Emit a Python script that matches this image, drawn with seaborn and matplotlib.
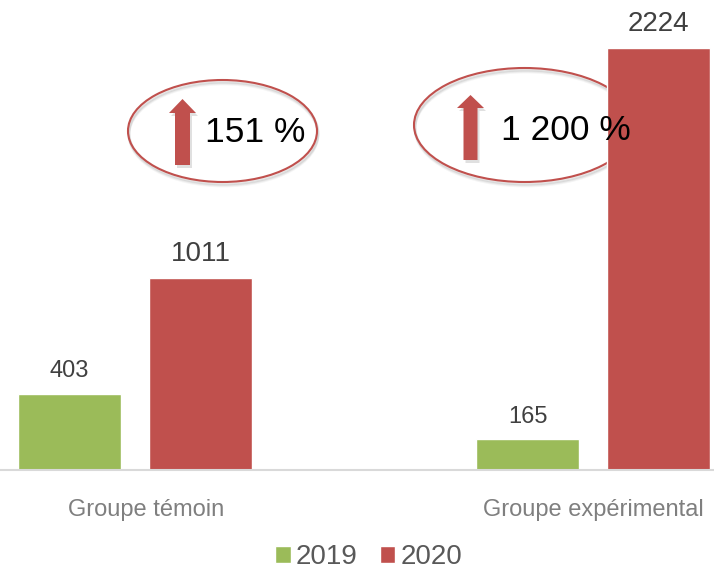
import seaborn as sns
import pandas as pd
import matplotlib.pyplot as plt
from matplotlib.patches import Ellipse, Polygon
from matplotlib.transforms import ScaledTranslation

groups = ['Groupe témoin', 'Groupe expérimental']
years = ['2019', '2020']
values_2019 = [403, 165]
values_2020 = [1011, 2224]
growth_labels = ['151 %', '1 200 %']

GREEN = '#9BBB59'
RED = '#C0504D'

df = pd.DataFrame({
    'group': groups * 2,
    'year': [years[0]] * 2 + [years[1]] * 2,
    'value': values_2019 + values_2020,
})

sns.set_theme(style='white')
plt.rcParams['font.family'] = ['Liberation Sans', 'DejaVu Sans']

W, H = 714, 572
fig = plt.figure(figsize=(W / 100, H / 100), dpi=100)
fig.patch.set_facecolor('white')
ax = fig.add_axes([0, 102 / H, 1, 470 / H])

sns.barplot(data=df, x='group', y='value', hue='year', palette=[GREEN, RED],
            width=0.572, gap=0.21, ax=ax, saturation=1, zorder=2)

ax.set_xlim(-0.2948, 1.264)
ax.set_ylim(0, 2477)
ax.set_xlabel('')
ax.set_ylabel('')
ax.set_yticks([])
for side in ['left', 'right', 'top']:
    ax.spines[side].set_visible(False)
ax.spines['bottom'].set_color('#D9D9D9')
ax.spines['bottom'].set_linewidth(1.5)
ax.tick_params(axis='x', length=0, pad=21, labelsize=17, labelcolor='#7F7F7F')
lbl = ax.get_xticklabels()[0]
lbl.set_transform(lbl.get_transform() + ScaledTranslation(11 / 100, 0, fig.dpi_scale_trans))

ax.bar_label(ax.containers[0], padding=8, fontsize=17, color='#404040')
ax.bar_label(ax.containers[1], padding=8, fontsize=20, color='#404040')

handles, labels = ax.get_legend_handles_labels()
ax.legend(handles, labels, loc='center', bbox_to_anchor=(369 / W, 1 - 557 / H),
          bbox_transform=fig.transFigure, ncol=2, frameon=False, fontsize=20,
          handlelength=0.55, handleheight=0.55, handletextpad=0.2,
          columnspacing=0.8, labelcolor='#595959')


def fx(px):
    return px / W


def fy(py):
    return 1 - py / H


# ellipses: centre x, centre y, width, height (pixels)
ellipses = [(222.5, 131, 189, 102), (524.5, 125, 221, 114)]
# arrows: tip x, tip y, head base y, head half width, shaft half width, bottom y
arrows = [(182.5, 99, 113, 13.5, 7.5, 165), (470.5, 95, 108, 13.5, 7, 160)]
texts = [(255, 132), (566, 130)]

for (cx, cy, ew, eh), (tx, ty, hb, hw, sw, bt), (lx, ly), g in zip(ellipses, arrows, texts, growth_labels):
    for k, a in [(4, 0.04), (3, 0.05), (2, 0.07)]:
        ax.add_patch(Ellipse((fx(cx + 1), fy(cy + k)), ew / W, eh / H, fill=False,
                             edgecolor='black', alpha=a, lw=2, transform=fig.transFigure,
                             zorder=1))
    ax.add_patch(Ellipse((fx(cx), fy(cy)), ew / W, eh / H, fill=False, edgecolor=RED,
                         lw=1.5, transform=fig.transFigure, zorder=1.5))
    pts = [(tx, ty), (tx + hw, hb), (tx + sw, hb), (tx + sw, bt), (tx - sw, bt),
           (tx - sw, hb), (tx - hw, hb)]
    shadow = [(fx(x + 2), fy(y + 3)) for x, y in pts]
    ax.add_patch(Polygon(shadow, closed=True, facecolor='black', alpha=0.12, lw=0,
                         transform=fig.transFigure, zorder=3))
    ax.add_patch(Polygon([(fx(x), fy(y)) for x, y in pts], closed=True, facecolor=RED,
                         lw=0, transform=fig.transFigure, zorder=3.5))
    ax.text(fx(lx), fy(ly), g, transform=fig.transFigure, ha='center', va='center',
            fontsize=25.5, color='black', zorder=5)

fig.savefig('out.png', dpi=100)
